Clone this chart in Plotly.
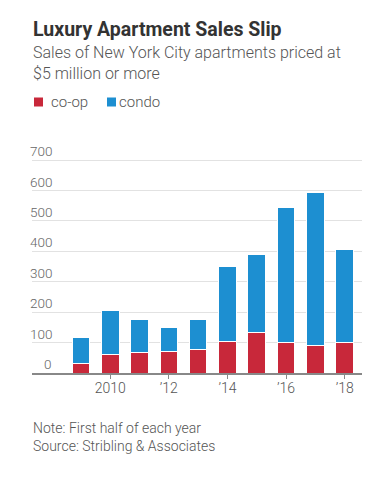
import plotly.graph_objects as go

years = [2009, 2010, 2011, 2012, 2013, 2014, 2015, 2016, 2017, 2018]
coop = [30, 60, 68, 72, 76, 104, 133, 100, 92, 100]
condo = [87, 145, 108, 78, 100, 247, 258, 443, 502, 305]
xtick_vals = [2010, 2012, 2014, 2016, 2018]
xtick_text = ["2010", "\u201912", "\u201914", "\u201916", "\u201918"]
ytick_vals = [0, 100, 200, 300, 400, 500, 600, 700]

# page body has an 8px default margin; lay out in page pixels and compensate
OFF = 8
W, H = 381 - OFF, 479 - OFF
L, R, T, B = 32 - OFF, 19, 154 - OFF, 106
PW, PH = W - L - R, H - T - B
FONT = "Roboto"
RED = "#c8283a"
BLUE = "#1d8fd1"

def px(x):
    return (x - OFF - L) / PW

def py(y):
    return (H - B - (y - OFF)) / PH

fig = go.Figure()
fig.add_bar(x=years, y=coop, name="co-op", marker=dict(color=RED, line=dict(color="white", width=1)))
fig.add_bar(x=years, y=condo, name="condo", marker=dict(color=BLUE, line=dict(color="white", width=1)))

ann = []
ann.append(dict(text="<b>Luxury Apartment Sales Slip</b>", x=px(31), y=py(29), xanchor="left", yanchor="middle",
                font=dict(family=FONT, size=19.5, color="#333333")))
ann.append(dict(text="Sales of New York City apartments priced at<br>$5 million or more", x=px(31), y=py(41),
                xanchor="left", yanchor="top", align="left",
                font=dict(family=FONT, size=16, color="#555555", weight=300)))
ann.append(dict(text="co-op", x=px(49), y=py(102), xanchor="left", yanchor="middle",
                font=dict(family=FONT, size=15, color="#555555", weight=300)))
ann.append(dict(text="condo", x=px(117), y=py(102), xanchor="left", yanchor="middle",
                font=dict(family=FONT, size=15, color="#555555", weight=300)))
ann.append(dict(text="Note: First half of each year<br>Source: Stribling &amp; Associates", x=px(31), y=py(418),
                xanchor="left", yanchor="top", align="left",
                font=dict(family=FONT, size=14, color="#555555", weight=300)))
for v in ytick_vals:
    ann.append(dict(text=str(v), x=px(54), xref="paper", y=v, yref="y", xanchor="right", yanchor="bottom",
                    yshift=-1, font=dict(family=FONT, size=13.5, color="#666666", weight=300)))
for a in ann:
    a.setdefault("xref", "paper")
    a.setdefault("yref", "paper")
    a["showarrow"] = False

shapes = [
    dict(type="rect", xref="paper", yref="paper", x0=px(34), x1=px(43), y0=py(106.5), y1=py(97.5),
         fillcolor=RED, line=dict(width=0)),
    dict(type="rect", xref="paper", yref="paper", x0=px(107), x1=px(116), y0=py(106.5), y1=py(97.5),
         fillcolor=BLUE, line=dict(width=0)),
]

fig.update_layout(
    width=W, height=H, margin=dict(l=L, r=R, t=T, b=B, pad=0),
    barmode="stack", bargap=0.4, showlegend=False,
    plot_bgcolor="white", paper_bgcolor="white",
    annotations=ann, shapes=shapes,
    xaxis=dict(range=[2007.33, 2018.59], tickvals=xtick_vals, ticktext=xtick_text,
               showline=True, linecolor="#888888", linewidth=1.5, ticks="outside", ticklen=4,
               tickcolor="#888888", showgrid=False, zeroline=False, ticklabelstandoff=-3,
               tickfont=dict(family=FONT, size=14, color="#555555", weight=300)),
    yaxis=dict(range=[0, 720], tickvals=ytick_vals, showticklabels=False, showgrid=True,
               gridcolor="#e2e2e2", gridwidth=1, zeroline=False),
)
fig.write_html("out.html")
